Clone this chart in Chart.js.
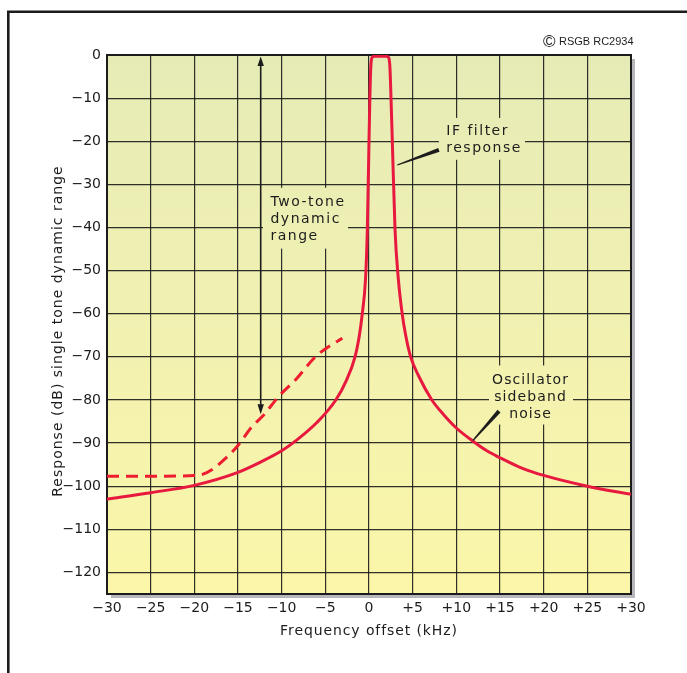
<!DOCTYPE html>
<html>
<head>
<meta charset="utf-8">
<style>
html,body{margin:0;padding:0;background:#fff;overflow:hidden;}
#c{display:block;}
</style>
<script src="https://cdn.jsdelivr.net/npm/chart.js@4.4.1/dist/chart.umd.min.js"></script>
</head>
<body>
<canvas id="c" width="687" height="673" style="width:687px;height:673px"></canvas>
<script>
// ---- Data ----
// IF filter response + oscillator sideband noise (solid)
const filterX = [-30, -25, -20, -15, -12.6, -10, -8.4, -6, -3.8, -2.6, -1.6, -1.1, -0.77, -0.4, -0.19,
                 0.0, 0.1, 0.2, 0.35, 0.6, 2.0, 2.25, 2.4, 2.52, 2.67,
                 2.98, 3.36, 3.8, 4.2, 4.77, 5.7, 7.2, 8.5, 10, 11.8, 13.5, 15, 17.5, 20, 25, 30];
const filterY = [-103, -101.5, -99.8, -96.8, -94.6, -91.8, -89.5, -85.3, -80, -75.5, -70, -65, -60, -52, -40.5,
                 -20, -10, -3, -0.6, -0.3, -0.3, -0.6, -3, -10, -20,
                 -40.5, -52, -60, -65, -70, -74.5, -80, -83.3, -86.5, -89.4, -91.8, -93.4, -95.8, -97.5, -100, -101.9];
// Two-tone (dashed)
const twoToneX = [-30, -25, -20, -19, -18, -16.4, -15.1, -13.4, -12.2, -10.3, -8.4, -6.1, -4.6, -3.05];
const twoToneY = [-97.7, -97.7, -97.5, -97.2, -96.2, -93.5, -90.8, -86.2, -83.8, -79.1, -75.3, -69.9, -67.6, -65.7];

// Tick labels
const xTickValues = [-30, -25, -20, -15, -10, -5, 0, 5, 10, 15, 20, 25, 30];
const xTickLabels = ['\u221230', '\u221225', '\u221220', '\u221215', '\u221210', '\u22125', '0',
                     '+5', '+10', '+15', '+20', '+25', '+30'];
const yTickValues = [0, -10, -20, -30, -40, -50, -60, -70, -80, -90, -100, -110, -120];
const yTickLabels = ['0', '\u221210', '\u221220', '\u221230', '\u221240', '\u221250', '\u221260',
                     '\u221270', '\u221280', '\u221290', '\u2212100', '\u2212110', '\u2212120'];

// Annotation texts
const xTitle = 'Frequency offset (kHz)';
const yTitle = 'Response (dB) single tone dynamic range';
const twoToneLabel = ['Two-tone', 'dynamic', 'range'];
const ifLabel = ['IF filter', 'response'];
const oscLabel = ['Oscillator', 'sideband', 'noise'];
const copyrightText = 'RSGB RC2934';

// ---- Drawing helpers ----
const FONT = '"DejaVu Sans", sans-serif';
const INK = '#1c1c1c';

function px(chart, x, y) {
  return [chart.scales.x.getPixelForValue(x), chart.scales.y.getPixelForValue(y)];
}

function maskBox(chart, x0, y0, x1, y1) {
  const ctx = chart.ctx;
  const [a, b] = px(chart, x0, y0);
  const [c, d] = px(chart, x1, y1);
  ctx.fillStyle = chart.$bgGrad;
  ctx.fillRect(Math.min(a, c), Math.min(b, d), Math.abs(c - a), Math.abs(d - b));
}

function taper(chart, x0, y0, x1, y1, w) {
  const ctx = chart.ctx;
  const [a, b] = px(chart, x0, y0);
  const [c, d] = px(chart, x1, y1);
  const len = Math.hypot(c - a, d - b);
  const nx = -(d - b) / len, ny = (c - a) / len;
  ctx.fillStyle = INK;
  ctx.beginPath();
  ctx.moveTo(a + nx * 0.6, b + ny * 0.6);
  ctx.lineTo(c + nx * w / 2, d + ny * w / 2);
  ctx.lineTo(c - nx * w / 2, d - ny * w / 2);
  ctx.lineTo(a - nx * 0.6, b - ny * 0.6);
  ctx.closePath();
  ctx.fill();
}

const deco = {
  id: 'deco',
  beforeDraw(chart) {
    const {ctx, chartArea: a} = chart;
    ctx.save();
    // outer frame (left and top)
    ctx.strokeStyle = INK;
    ctx.lineWidth = 2.6;
    ctx.beginPath();
    ctx.moveTo(8.3, 673);
    ctx.lineTo(8.3, 11.7);
    ctx.lineTo(687, 11.7);
    ctx.stroke();
    // shadow
    ctx.fillStyle = '#b8b8bc';
    ctx.fillRect(a.left + 4, a.top + 4, a.right - a.left, a.bottom - a.top);
    // background gradient
    const g = ctx.createLinearGradient(0, a.top, 0, a.bottom);
    g.addColorStop(0, '#e6ebb6');
    g.addColorStop(0.5, '#f1f1b1');
    g.addColorStop(1, '#fbf6a8');
    chart.$bgGrad = g;
    ctx.fillStyle = g;
    ctx.fillRect(a.left, a.top, a.right - a.left, a.bottom - a.top);
    ctx.restore();
  },
  beforeDatasetsDraw(chart) {
    const {ctx, chartArea: a} = chart;
    ctx.save();
    // masks behind labels
    maskBox(chart, -12.14, -30.8, -2.4, -44.9);
    maskBox(chart, 8.0, -14.6, 17.86, -24.3);
    maskBox(chart, 13.74, -72.0, 23.36, -85.7);
    // plot border
    ctx.strokeStyle = INK;
    ctx.lineWidth = 2;
    ctx.strokeRect(a.left, a.top, a.right - a.left, a.bottom - a.top);
    ctx.restore();
  },
  afterDatasetsDraw(chart) {
    const {ctx, chartArea: a} = chart;
    ctx.save();
    ctx.fillStyle = INK;
    ctx.strokeStyle = INK;

    // two-tone dynamic range arrow
    const [ax, ay0] = px(chart, -12.4, 0);
    const [, ay1] = px(chart, -12.4, -83.3);
    ctx.lineWidth = 1.6;
    ctx.beginPath();
    ctx.moveTo(ax, ay0 + 8);
    ctx.lineTo(ax, ay1 - 8);
    ctx.stroke();
    ctx.beginPath();
    ctx.moveTo(ax, ay0 + 1.5);
    ctx.lineTo(ax - 3.2, ay0 + 11);
    ctx.lineTo(ax + 3.2, ay0 + 11);
    ctx.closePath();
    ctx.fill();
    ctx.beginPath();
    ctx.moveTo(ax, ay1);
    ctx.lineTo(ax - 3.2, ay1 - 10);
    ctx.lineTo(ax + 3.2, ay1 - 10);
    ctx.closePath();
    ctx.fill();

    // leader lines
    taper(chart, 3.24, -25.5, 8.0, -22.0, 4);
    taper(chart, 11.9, -89.4, 14.89, -82.6, 4);

    // annotation texts
    ctx.font = '14px ' + FONT;
    try { ctx.letterSpacing = '1.5px'; } catch (e) {}
    ctx.textBaseline = 'alphabetic';
    ctx.textAlign = 'left';
    const ttY = [-35.1, -38.9, -42.85];
    twoToneLabel.forEach((t, i) => {
      const [x, y] = px(chart, -11.28, ttY[i]);
      ctx.fillText(t, x, y);
    });
    const ifY = [-18.5, -22.4];
    ifLabel.forEach((t, i) => {
      const [x, y] = px(chart, 8.85, ifY[i]);
      ctx.fillText(t, x, y);
    });
    try { ctx.letterSpacing = '1.1px'; } catch (e) {}
    ctx.textAlign = 'center';
    const oscY = [-76.4, -80.3, -84.2];
    oscLabel.forEach((t, i) => {
      const [x, y] = px(chart, 18.5, oscY[i]);
      ctx.fillText(t, x, y);
    });

    // axis titles
    try { ctx.letterSpacing = '0.9px'; } catch (e) {}
    ctx.textAlign = 'center';
    ctx.textBaseline = 'middle';
    ctx.font = '14px ' + FONT;
    ctx.fillText(xTitle, (a.left + a.right) / 2, 631);
    ctx.save();
    ctx.translate(58, 331);
    ctx.rotate(-Math.PI / 2);
    try { ctx.letterSpacing = '1px'; } catch (e) {}
    ctx.fillText(yTitle, 0, 0);
    ctx.restore();

    // copyright
    try { ctx.letterSpacing = '0px'; } catch (e) {}
    ctx.textAlign = 'left';
    ctx.textBaseline = 'alphabetic';
    ctx.font = '17px "Liberation Sans", sans-serif';
    ctx.fillText('\u00A9', 543, 46.5);
    ctx.font = '11px "Liberation Sans", sans-serif';
    ctx.fillText(copyrightText, 559, 45);
    ctx.restore();
  }
};

const toPts = (xs, ys) => xs.map((x, i) => ({x: x, y: ys[i]}));

new Chart(document.getElementById('c'), {
  type: 'scatter',
  data: {
    datasets: [
      {
        label: 'IF filter response / oscillator sideband noise',
        data: toPts(filterX, filterY),
        showLine: true,
        borderColor: '#e8193f',
        borderWidth: 3,
        pointRadius: 0,
        cubicInterpolationMode: 'monotone',
        fill: false
      },
      {
        label: 'Two-tone dynamic range',
        data: toPts(twoToneX, twoToneY),
        showLine: true,
        borderColor: '#ee1d2f',
        borderWidth: 3,
        borderDash: [12, 7],
        pointRadius: 0,
        cubicInterpolationMode: 'monotone',
        fill: false
      }
    ]
  },
  options: {
    responsive: false,
    animation: false,
    events: [],
    layout: {padding: {top: 55, right: 56, left: 0, bottom: 0}},
    plugins: {
      legend: {display: false},
      tooltip: {enabled: false},
      title: {display: false}
    },
    scales: {
      x: {
        type: 'linear',
        min: -30,
        max: 30,
        afterBuildTicks: s => { s.ticks = xTickValues.map(v => ({value: v})); },
        afterFit: s => { s.height = 79; },
        ticks: {
          autoSkip: false,
          maxRotation: 0,
          padding: 6,
          color: INK,
          font: {family: FONT, size: 14},
          callback: v => { const i = xTickValues.indexOf(v); return i >= 0 ? xTickLabels[i] : ''; }
        },
        grid: {color: 'rgba(25,25,25,0.9)', lineWidth: 1.2, drawTicks: false},
        border: {display: false}
      },
      y: {
        type: 'linear',
        min: -125,
        max: 0,
        afterBuildTicks: s => { s.ticks = yTickValues.map(v => ({value: v})); },
        afterFit: s => { s.width = 107; },
        ticks: {
          autoSkip: false,
          padding: 6,
          color: INK,
          font: {family: FONT, size: 14},
          callback: v => { const i = yTickValues.indexOf(v); return i >= 0 ? yTickLabels[i] : ''; }
        },
        grid: {color: 'rgba(25,25,25,0.9)', lineWidth: 1.2, drawTicks: false},
        border: {display: false}
      }
    }
  },
  plugins: [deco]
});
</script>
</body>
</html>
